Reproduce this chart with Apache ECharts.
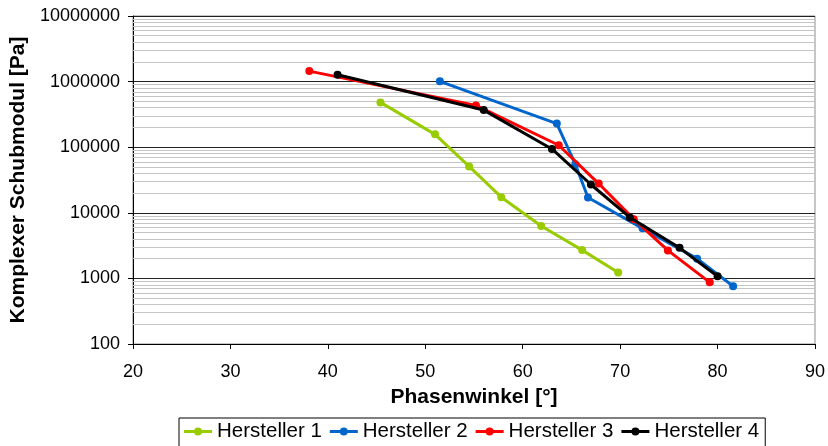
<!DOCTYPE html>
<html>
<head>
<meta charset="utf-8">
<script src="https://cdn.jsdelivr.net/npm/echarts@6/dist/echarts.min.js"></script>
<style>
  html, body { margin: 0; padding: 0; background: #ffffff; }
  #chart { width: 828px; height: 446px; }
</style>
</head>
<body>
<div id="chart"></div>
<script>
// Phase angle [°] and complex shear modulus [Pa] per manufacturer
const seriesNames = ['Hersteller 1', 'Hersteller 2', 'Hersteller 3', 'Hersteller 4'];
const seriesColors = ['#99cc00', '#0066cc', '#ff0000', '#000000'];

const phase1 = [45.4, 51.0, 54.5, 57.8, 61.9, 66.1, 69.8];
const modul1 = [482000, 157000, 51000, 17300, 6300, 2700, 1230];

const phase2 = [51.5, 63.5, 65.4, 66.7, 72.3, 77.9, 81.6];
const modul2 = [1010000, 229000, 55000, 17100, 5800, 2000, 760];

const phase3 = [38.1, 55.2, 63.7, 67.8, 71.4, 74.9, 79.2];
const modul3 = [1445000, 434000, 107000, 27900, 8000, 2670, 870];

const phase4 = [41.0, 56.0, 63.0, 67.0, 71.0, 76.1, 80.0];
const modul4 = [1274000, 368000, 94000, 27000, 8500, 2920, 1080];

const xTicks = [20, 30, 40, 50, 60, 70, 80, 90];
const yDecades = [100, 1000, 10000, 100000, 1000000, 10000000];

const phases = [phase1, phase2, phase3, phase4];
const moduli = [modul1, modul2, modul3, modul4];

// Minor log gridlines at 2..9 × each decade
const minorLevels = [];
for (let d = 0; d < yDecades.length - 1; d++) {
  for (let m = 2; m <= 9; m++) minorLevels.push(yDecades[d] * m);
}

const FONT = 'Liberation Sans, Arial, sans-serif';
// Legend marker: line segment with a dot in the middle
const LEGEND_ICON = 'path://M0,2.5 L10.5,2.5 L10.5,5.5 L0,5.5 Z M17.5,2.5 L28,2.5 L28,5.5 L17.5,5.5 Z ' +
  'M10,4 A4,4 0 1,1 18,4 A4,4 0 1,1 10,4 Z';

const chart = echarts.init(document.getElementById('chart'), null, { renderer: 'canvas' });

const dataSeries = seriesNames.map((name, i) => ({
  name: name,
  type: 'line',
  data: phases[i].map((p, k) => [p, moduli[i][k]]),
  symbol: 'circle',
  symbolSize: 8,
  showSymbol: true,
  lineStyle: { width: 3, color: seriesColors[i] },
  itemStyle: { color: seriesColors[i] },
  z: 10 + i,
  animation: false
}));

const minorSeries = {
  name: '_minor',
  type: 'line',
  data: [],
  silent: true,
  z: 1,
  markLine: {
    z: 1,
    silent: true,
    symbol: 'none',
    animation: false,
    label: { show: false },
    lineStyle: { color: '#c4c4c4', width: 1, type: 'solid' },
    emphasis: { disabled: true },
    data: minorLevels.map(v => ({ yAxis: v }))
  }
};

chart.setOption({
  backgroundColor: '#ffffff',
  animation: false,
  grid: {
    left: 131, right: 10, top: 16, bottom: 102,
    show: true, borderColor: '#8c8c8c', borderWidth: 1, backgroundColor: 'transparent'
  },
  legend: {
    data: seriesNames,
    left: 179,
    top: 418,
    orient: 'horizontal',
    itemWidth: 28,
    itemHeight: 8,
    itemGap: 8,
    padding: [3, 6, 6, 5],
    borderColor: '#000000',
    borderWidth: 1,
    textStyle: { fontFamily: FONT, fontSize: 20.5, color: '#000000' },
    icon: LEGEND_ICON
  },
  xAxis: {
    type: 'value',
    min: 20, max: 90, interval: 10,
    name: 'Phasenwinkel [°]',
    nameLocation: 'middle',
    nameGap: 43,
    nameTextStyle: { fontFamily: FONT, fontSize: 21, fontWeight: 'bold', color: '#000000' },
    axisLine: { show: true, onZero: false, lineStyle: { color: '#000000', width: 1 } },
    axisTick: { show: true, inside: false, length: 5, lineStyle: { color: '#000000' } },
    axisLabel: {
      fontFamily: FONT, fontSize: 18, color: '#000000', margin: 19,
      formatter: v => (xTicks.includes(v) ? String(v) : '')
    },
    splitLine: { show: false }
  },
  yAxis: {
    type: 'log',
    logBase: 10,
    min: 100, max: 10000000,
    name: 'Komplexer Schubmodul [Pa]',
    nameLocation: 'middle',
    nameGap: 98,
    nameRotate: 90,
    nameTextStyle: { fontFamily: FONT, fontSize: 21, fontWeight: 'bold', color: '#000000' },
    axisLine: { show: true, lineStyle: { color: '#000000', width: 1 } },
    axisTick: { show: true, inside: false, length: 5, lineStyle: { color: '#000000' } },
    axisLabel: {
      fontFamily: FONT, fontSize: 18, color: '#000000', margin: 13,
      formatter: v => String(Math.round(v))
    },
    splitLine: { show: true, lineStyle: { color: '#222222', width: 1 } },
    minorTick: { show: false },
    minorSplitLine: { show: false }
  },
  series: [minorSeries].concat(dataSeries)
});
</script>
</body>
</html>
